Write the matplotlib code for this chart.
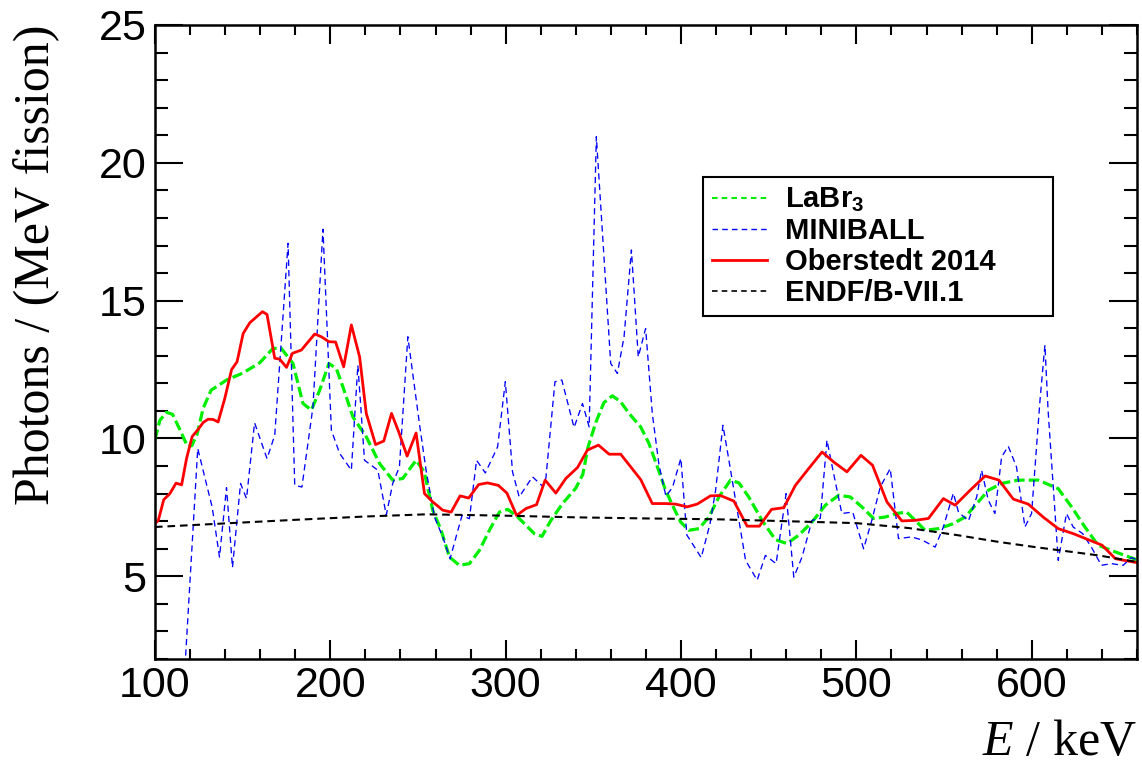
import matplotlib
matplotlib.use("Agg")
import matplotlib.pyplot as plt
from matplotlib.ticker import MultipleLocator
from matplotlib.lines import Line2D
from matplotlib.font_manager import FontProperties

plt.rcParams["font.family"] = "Liberation Sans"
plt.rcParams["mathtext.fontset"] = "custom"
plt.rcParams["mathtext.rm"] = "Liberation Serif"
plt.rcParams["mathtext.it"] = "Liberation Serif:italic"
plt.rcParams["mathtext.bf"] = "Liberation Sans:bold"
plt.rcParams["lines.scale_dashes"] = False

# ---- data (E in keV, photons per MeV per fission) ----
labr_e = [100, 102.8, 106.5, 110, 114, 118.5, 121, 124, 127.5, 132, 140.8, 150.3,
          159.8, 167.3, 172, 178.7, 184.4, 189.2, 193.9, 199.2, 203.4, 207.2, 212.9,
          220.5, 228.1, 235.6, 241.3, 248.9, 253.5, 258.4, 263.2, 267.9, 273.6, 279.3,
          285, 290.7, 296.4, 301.1, 305.9, 311.6, 316.3, 320.7, 325.8, 332.4, 340,
          344, 347, 351.5, 356, 360.8, 365.6, 370.3, 377, 381.7, 386.5, 391.2, 396,
          399.8, 404.5, 410.2, 415.9, 421.6, 428.2, 433, 438.6, 446.2, 453.8, 460.4,
          467.1, 474.7, 482.3, 489.9, 496.5, 503.1, 509.8, 516.4, 523, 528.7, 533.5,
          539.2, 546.8, 554.4, 562, 569.5, 575.2, 582.8, 592.3, 603.7, 615.1, 622.7,
          630.3, 637.8, 645.4, 653, 660]
labr_y = [9.96, 10.66, 10.95, 10.88, 10.35, 9.72, 9.74, 10.15, 11.1, 11.75, 12.12, 12.38,
          12.75, 13.27, 13.27, 12.72, 11.27, 11.03, 11.75, 12.72, 12.54, 11.87, 10.78,
          10.06, 9.09, 8.49, 8.55, 9.21, 8.8, 7.40, 6.67, 5.70, 5.40, 5.46,
          5.94, 6.67, 7.33, 7.43, 7.21, 6.85, 6.55, 6.45, 7.03, 7.64, 8.2,
          8.7, 9.7, 10.6, 11.3, 11.55, 11.33, 10.91, 10.42, 9.82, 8.97, 8.12, 7.46,
          6.97, 6.67, 6.73, 7.15, 7.88, 8.49, 8.39, 7.88, 7.03, 6.33, 6.19,
          6.49, 6.97, 7.58, 7.94, 7.88, 7.52, 7.10, 7.15, 7.28, 7.33, 7.03,
          6.67, 6.73, 6.89, 7.15, 7.70, 8.12, 8.37, 8.49, 8.49, 8.18, 7.52,
          6.79, 6.13, 5.94, 5.76, 5.6]

mb_e = [100, 116, 124.4, 128.8, 132.6, 136.8, 140.8, 144.2, 148.8, 152.2, 156.8, 163.9,
        168.3, 175.9, 179.7, 183.8, 190.1, 195.8, 200.6, 205.3, 212, 215.7, 219.5,
        227.1, 231.9, 235.6, 239.4, 244.2, 250.8, 254.6, 259.4, 264.1, 268.3, 271.7,
        275.1, 279.3, 283.4, 288.4, 295.4, 299.8, 303.9, 307.7, 315.3, 321, 322.9,
        328.1, 332, 339, 343.8, 347.6, 351.7, 359.9, 363.7, 367.5, 371.7, 375.6,
        379.8, 383.6, 387.4, 391.4, 395.2, 399.9, 403.3, 411.5, 416.5, 419.7, 423.9,
        427.3, 431.1, 436.8, 443.4, 448.1, 454.2, 459.9, 464.3, 469, 474.7, 479.4,
        483.2, 487, 491.7, 497.9, 504.1, 508.8, 513.6, 519.3, 524, 531.6, 537.7,
        544.9, 549.6, 555.3, 558.2, 563.9, 568.6, 571.4, 575.2, 579, 582.8, 586.6,
        591.3, 596.1, 599.9, 604.7, 607.5, 609.3, 615.1, 619.8, 623.6, 629, 634,
        639.7, 645.4, 652.1, 656.8, 660]
mb_y = [0.5, 0.5, 9.64, 8.49, 7.52, 5.70, 8.22, 5.32, 8.37, 7.82, 10.57, 9.27,
        10.12, 17.08, 8.30, 8.24, 11.15, 17.59, 10.30, 9.46, 8.85, 12.66, 9.21,
        8.85, 7.22, 8.37, 8.97, 13.69, 10.54, 8.85, 7.15, 6.43, 5.64, 6.43,
        7.21, 7.09, 9.21, 8.75, 9.70, 12.06, 8.79, 7.88, 8.61, 8.27, 8.55,
        12.06, 12.12, 10.4, 11.27, 10.42, 20.95, 12.72, 12.36, 13.69, 16.84, 12.96,
        13.99, 10.91, 9.05, 7.9, 8.24, 9.28, 6.5, 5.68, 6.9, 8.12, 10.48,
        9.21, 7.76, 5.58, 4.86, 5.76, 5.46, 8.00, 4.97, 5.70, 7.03, 7.10,
        9.94, 8.73, 7.28, 7.33, 6.00, 7.03, 8.24, 8.91, 6.37, 6.43, 6.31,
        6.06, 6.79, 8.02, 7.33, 7.01, 7.88, 8.85, 7.76, 7.28, 9.33, 9.72,
        8.97, 6.79, 7.28, 11.39, 13.39, 11.03, 5.58, 7.28, 6.79, 6.55, 6.06,
        5.40, 5.46, 5.40, 5.68, 5.6]

ob_e = [100, 101.9, 105, 108.5, 112, 115.2, 118, 121.2, 124.6, 127.5, 130.3, 133.2, 136,
        139.8, 143.7, 146.8, 150.3, 154.1, 157.5, 161.3, 163.9, 168.3, 171.1, 175,
        178.4, 183.5, 191.1, 194.9, 199.2, 203, 207.6, 212, 216.7, 220.5, 225.8,
        230.5, 234.9, 239, 243.8, 248.9, 253.7, 258.4, 264.1, 268.9, 274, 278.9,
        284.6, 289.6, 295.8, 300.7, 306.2, 311.6, 317.6, 322.5, 328.6, 334.3, 341,
        346.6, 352.9, 359, 365.6, 371.3, 377, 383.6, 391.2, 396.9, 403.5, 409.2,
        416.8, 422.5, 430.1, 437.7, 444.7, 451.6, 458.6, 465.2, 472.8, 480.4, 487,
        494.6, 502.6, 509.2, 517.4, 525.9, 533.5, 541.1, 549.6, 556.3, 564.8, 573.4,
        581.3, 589.5, 598, 606.5, 615.1, 623.6, 632.2, 640.1, 647.7, 657.8, 660]
ob_y = [6.91, 7.03, 7.78, 8.0, 8.38, 8.32, 9.27, 10.07, 10.33, 10.58, 10.70, 10.69, 10.60,
        11.45, 12.50, 12.78, 13.81, 14.20, 14.39, 14.60, 14.50, 12.91, 12.88, 12.58,
        13.09, 13.21, 13.79, 13.69, 13.51, 13.50, 12.60, 14.12, 12.96, 10.91, 9.78,
        9.91, 10.91, 10.24, 9.36, 10.20, 8.0, 7.70, 7.40, 7.33, 7.92, 7.84,
        8.33, 8.39, 8.30, 8.02, 7.21, 7.46, 7.60, 8.49, 8.02, 8.55, 8.95,
        9.58, 9.76, 9.43, 9.43, 8.97, 8.51, 7.64, 7.64, 7.62, 7.52, 7.62,
        7.92, 7.93, 7.73, 6.82, 6.82, 7.43, 7.49, 8.30, 8.91, 9.51, 9.15,
        8.79, 9.39, 9.03, 7.70, 7.01, 7.03, 7.10, 7.82, 7.58, 8.12, 8.64,
        8.49, 7.80, 7.62, 7.15, 6.73, 6.55, 6.33, 6.13, 5.64, 5.52, 5.5]

endf_e = [100, 137, 180, 220, 255, 300, 340, 380, 420, 460, 500, 530, 558, 581, 602, 638, 660]
endf_y = [6.79, 6.91, 7.05, 7.17, 7.25, 7.20, 7.14, 7.10, 7.07, 7.0, 6.93, 6.75, 6.49,
          6.25, 6.06, 5.76, 5.52]

labels = [r"LaBr$_\mathbf{3}$", "MINIBALL", "Oberstedt 2014", "ENDF/B-VII.1"]

# ---- figure ----
fig = plt.figure(figsize=(11.42, 7.69), dpi=100)
ax = fig.add_axes([0.1357, 0.1430, 0.8599, 0.8245])

green = "#00ee00"
blue = "#0000ff"
red = "#ff0000"

ax.plot(labr_e, labr_y, color=green, lw=2.3, ls=(0, (7.5, 3)))
ax.plot(mb_e, mb_y, color=blue, lw=0.95, ls=(0, (4.5, 3)))
ax.plot(ob_e, ob_y, color=red, lw=2.0, ls="-")
ax.plot(endf_e, endf_y, color="black", lw=1.5, ls=(0, (5.5, 3.5)))

ax.set_xlim(100, 660)
ax.set_ylim(2, 25)

ax.xaxis.set_major_locator(MultipleLocator(100))
ax.xaxis.set_minor_locator(MultipleLocator(20))
ax.yaxis.set_major_locator(MultipleLocator(5))
ax.yaxis.set_minor_locator(MultipleLocator(1))

ax.tick_params(which="both", direction="in", top=True, right=True, width=1.5)
ax.tick_params(axis="x", which="major", length=14, pad=5, labelsize=31)
ax.tick_params(axis="x", which="minor", length=7)
ax.tick_params(axis="y", which="major", length=20, pad=6, labelsize=31)
ax.tick_params(axis="y", which="minor", length=9.5)
for sp in ax.spines.values():
    sp.set_linewidth(1.8)

ax.set_ylabel("Photons / (MeV fission)", family="Liberation Serif", fontsize=36, loc="top")
ax.yaxis.set_label_coords(-0.097, 1.0)
ax.set_xlabel(r"$E$ / keV", family="Liberation Serif", fontsize=36, loc="right")
ax.xaxis.set_label_coords(1.0, -0.095)

handles = [
    Line2D([], [], color=green, lw=1.5, ls=(0, (4, 3))),
    Line2D([], [], color=blue, lw=1.0, ls=(0, (4, 3))),
    Line2D([], [], color=red, lw=2.0, ls="-"),
    Line2D([], [], color="black", lw=1.2, ls=(0, (4, 3))),
]
leg = ax.legend(handles, labels, loc="upper left",
                bbox_to_anchor=(0.558, 0.553, 0.356, 0.207), mode="expand",
                prop=FontProperties(family="Liberation Sans", weight="bold", size=21),
                frameon=True, fancybox=False, edgecolor="black", framealpha=1,
                handlelength=1.9, handletextpad=0.6, labelspacing=0.1,
                borderpad=0.3, borderaxespad=0)
leg.get_frame().set_linewidth(1.5)
for t in leg.get_texts():
    t.set_y(0)

fig.savefig("out.png", dpi=100)
